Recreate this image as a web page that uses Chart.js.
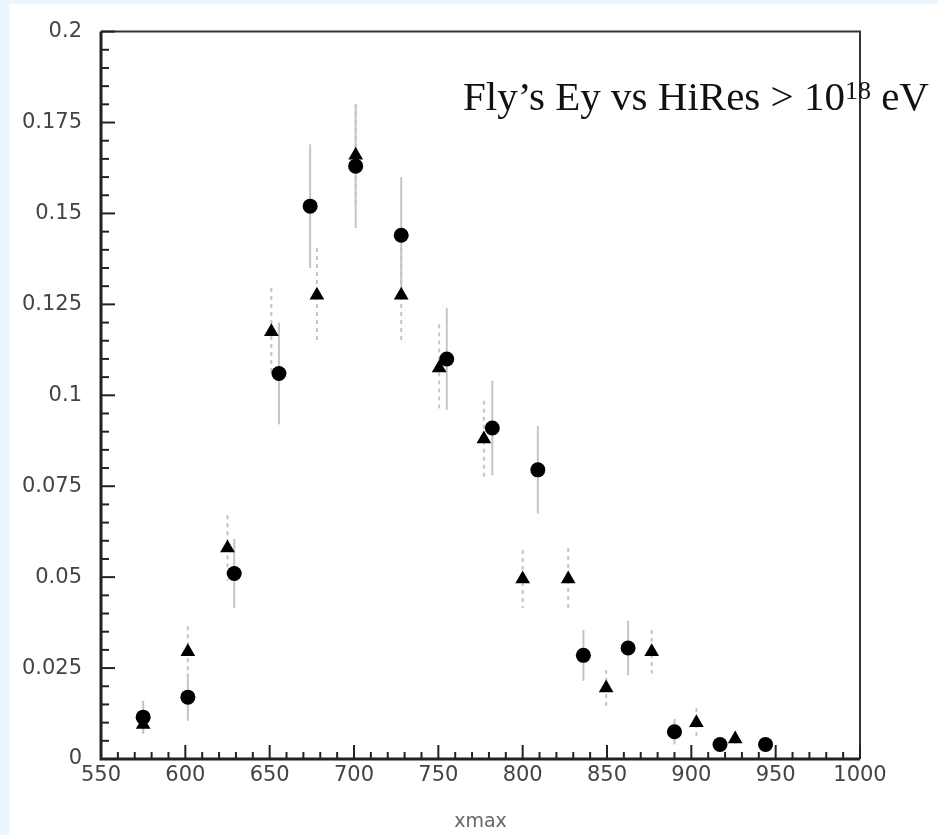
<!DOCTYPE html>
<html>
<head>
<meta charset="utf-8">
<script src="https://cdn.jsdelivr.net/npm/chart.js@4"></script>
<style>
  body { margin: 0; background: #ebf5fd; }
  #wrap { width: 938px; height: 835px; }
</style>
</head>
<body>
<div id="wrap"><canvas id="xmaxChart" width="938" height="835"></canvas></div>
<script>
// Fly's Eye (circles, solid error bars)
const circX = [575, 601.5, 629, 655.5, 674, 701, 728, 755, 782, 809, 836, 862.5, 890, 917, 944];
const circY = [0.0115, 0.017, 0.051, 0.106, 0.152, 0.163, 0.144, 0.110, 0.091, 0.0795, 0.0285, 0.0305, 0.0075, 0.004, 0.004];
const circErr = [0.0045, 0.0065, 0.0095, 0.014, 0.017, 0.017, 0.016, 0.014, 0.013, 0.012, 0.007, 0.0075, 0.0035, 0.0015, 0.0015];

// HiRes (triangles, dashed error bars)
const triX = [575, 601.5, 625, 651, 678, 701, 728, 750.5, 777, 800, 827, 849.5, 876.5, 903, 926];
const triY = [0.0095, 0.0295, 0.058, 0.1175, 0.1275, 0.166, 0.1275, 0.1075, 0.088, 0.0495, 0.0495, 0.0195, 0.0295, 0.01, 0.0055];
const triErr = [0.003, 0.007, 0.009, 0.012, 0.013, 0.014, 0.013, 0.012, 0.0105, 0.008, 0.0085, 0.005, 0.006, 0.004, 0.002];

const xTicks = [550, 600, 650, 700, 750, 800, 850, 900, 950, 1000];
const yTicks = [0, 0.025, 0.05, 0.075, 0.1, 0.125, 0.15, 0.175, 0.2];

const toPoints = (xs, ys) => xs.map((x, i) => ({ x: x, y: ys[i] }));

// background panel, frame, inner tick marks
const framePlugin = {
  id: 'frame',
  beforeDraw(chart) {
    const ctx = chart.ctx;
    ctx.save();
    ctx.fillStyle = '#ebf5fd';
    ctx.fillRect(0, 0, chart.width, chart.height);
    ctx.fillStyle = '#ffffff';
    ctx.fillRect(9, 4, chart.width - 9, chart.height - 4);
    ctx.restore();
  },
  afterDatasetsDraw(chart) {
    const ctx = chart.ctx;
    const a = chart.chartArea;
    const xs = chart.scales.x, ys = chart.scales.y;
    ctx.save();
    ctx.strokeStyle = '#333';
    ctx.lineWidth = 2;
    ctx.beginPath();
    ctx.moveTo(a.left, a.top);
    ctx.lineTo(a.right, a.top);
    ctx.lineTo(a.right, a.bottom);
    ctx.stroke();

    ctx.strokeStyle = '#222';
    ctx.lineWidth = 2;
    for (let v = 550; v <= 1000; v += 10) {
      const px = xs.getPixelForValue(v);
      const len = (v % 50 === 0) ? 14 : 7;
      ctx.beginPath();
      ctx.moveTo(px, a.bottom);
      ctx.lineTo(px, a.bottom - len);
      ctx.stroke();
    }
    for (let k = 0; k <= 40; k++) {
      const py = ys.getPixelForValue(k * 0.005);
      const len = (k % 5 === 0) ? 14 : 8;
      ctx.beginPath();
      ctx.moveTo(a.left, py);
      ctx.lineTo(a.left + len, py);
      ctx.stroke();
    }

    ctx.lineWidth = 3;
    ctx.beginPath();
    ctx.moveTo(a.left, a.top);
    ctx.lineTo(a.left, a.bottom);
    ctx.lineTo(a.right, a.bottom);
    ctx.stroke();
    ctx.restore();
  },
  afterDraw(chart) {
    const ctx = chart.ctx;
    ctx.save();
    ctx.fillStyle = '#111';
    ctx.textBaseline = 'alphabetic';
    ctx.font = '41px "Liberation Serif"';
    let x = 463;
    const main = 'Fly\u2019s Ey vs HiRes > 10';
    ctx.fillText(main, x, 110);
    x += ctx.measureText(main).width;
    ctx.font = '26px "Liberation Serif"';
    ctx.fillText('18', x, 99);
    x += ctx.measureText('18').width;
    ctx.font = '41px "Liberation Serif"';
    ctx.fillText(' eV', x, 110);
    ctx.restore();
  }
};

// vertical error bars
const errorBarPlugin = {
  id: 'errorBars',
  beforeDatasetsDraw(chart) {
    const ctx = chart.ctx;
    const xs = chart.scales.x, ys = chart.scales.y;
    ctx.save();
    ctx.lineWidth = 2;
    ctx.strokeStyle = '#c4c4c4';
    chart.data.datasets.forEach(ds => {
      ctx.setLineDash(ds.errDash);
      ds.data.forEach((p, i) => {
        const px = xs.getPixelForValue(p.x);
        ctx.beginPath();
        ctx.moveTo(px, ys.getPixelForValue(p.y + ds.errors[i]));
        ctx.lineTo(px, ys.getPixelForValue(p.y - ds.errors[i]));
        ctx.stroke();
      });
    });
    ctx.restore();
  }
};

const ctx = document.getElementById('xmaxChart').getContext('2d');
new Chart(ctx, {
  type: 'scatter',
  data: {
    datasets: [
      {
        label: 'HiRes',
        data: toPoints(triX, triY),
        errors: triErr,
        errDash: [4, 4],
        pointStyle: 'triangle',
        pointRadius: 8.5,
        backgroundColor: '#000',
        borderColor: '#000',
        borderWidth: 0
      },
      {
        label: "Fly's Eye",
        data: toPoints(circX, circY),
        errors: circErr,
        errDash: [],
        pointStyle: 'circle',
        pointRadius: 7.5,
        backgroundColor: '#000',
        borderColor: '#000',
        borderWidth: 0
      }
    ]
  },
  options: {
    responsive: false,
    animation: false,
    layout: { padding: { top: 26, right: 78, left: 0, bottom: 0 } },
    plugins: {
      legend: { display: false },
      tooltip: { enabled: false }
    },
    scales: {
      x: {
        type: 'linear',
        min: 550,
        max: 1000,
        afterBuildTicks: s => { s.ticks = xTicks.map(v => ({ value: v })); },
        afterFit: s => { s.height = 76; },
        grid: { display: false, drawTicks: false },
        border: { display: false },
        ticks: {
          padding: 4,
          color: '#444',
          font: { family: 'DejaVu Sans', size: 21 },
          maxRotation: 0,
          callback: v => String(v)
        },
        title: {
          display: true,
          text: 'xmax',
          color: '#666',
          font: { family: 'DejaVu Sans', size: 19 },
          padding: { top: 0, bottom: 2 }
        }
      },
      y: {
        type: 'linear',
        min: 0,
        max: 0.2,
        afterBuildTicks: s => { s.ticks = yTicks.map(v => ({ value: v })); },
        afterFit: s => { s.width = 101; },
        grid: { display: false, drawTicks: false },
        border: { display: false },
        ticks: {
          padding: 19,
          color: '#444',
          font: { family: 'DejaVu Sans', size: 21 },
          callback: v => String(v)
        }
      }
    }
  },
  plugins: [framePlugin, errorBarPlugin]
});
</script>
</body>
</html>
